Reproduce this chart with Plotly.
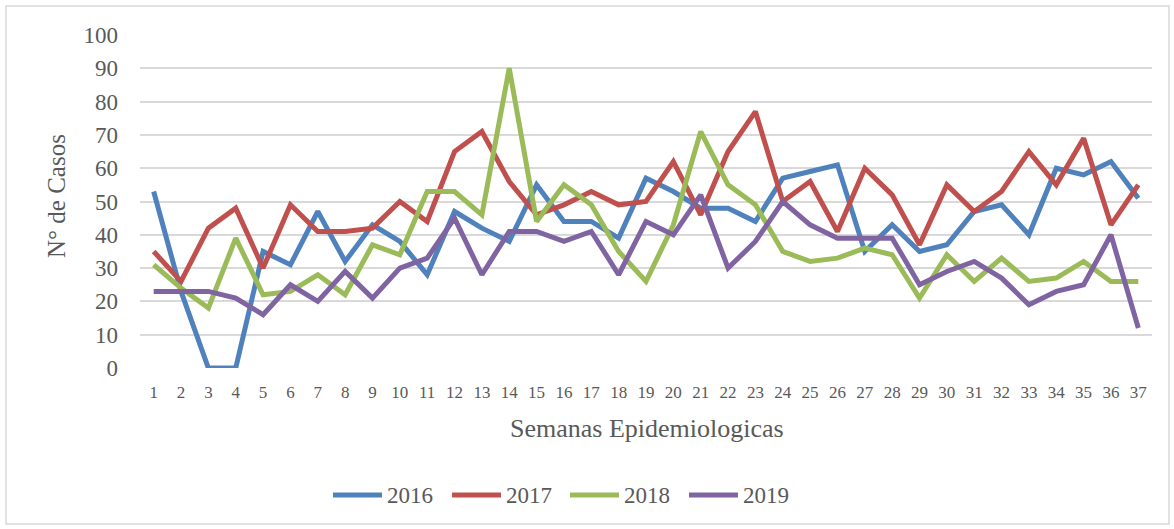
import plotly.graph_objects as go

weeks = [str(i) for i in range(1, 38)]
y2016 = [53, 23, 0, 0, 35, 31, 47, 32, 43, 38, 28, 47, 42, 38, 55, 44, 44, 39, 57, 53, 48, 48, 44, 57, 59, 61, 35, 43, 35, 37, 47, 49, 40, 60, 58, 62, 51]
y2017 = [35, 26, 42, 48, 30, 49, 41, 41, 42, 50, 44, 65, 71, 56, 46, 49, 53, 49, 50, 62, 46, 65, 77, 50, 56, 41, 60, 52, 37, 55, 47, 53, 65, 55, 69, 43, 55]
y2018 = [31, 24, 18, 39, 22, 23, 28, 22, 37, 34, 53, 53, 46, 90, 44, 55, 49, 35, 26, 43, 71, 55, 49, 35, 32, 33, 36, 34, 21, 34, 26, 33, 26, 27, 32, 26, 26]
y2019 = [23, 23, 23, 21, 16, 25, 20, 29, 21, 30, 33, 45, 28, 41, 41, 38, 41, 28, 44, 40, 52, 30, 38, 50, 43, 39, 39, 39, 25, 29, 32, 27, 19, 23, 25, 40, 12]
series_names = ["2016", "2017", "2018", "2019"]
colors = ["#4F81BD", "#C0504D", "#9BBB59", "#8064A2"]
y_ticks = list(range(0, 101, 10))

FONT = "Liberation Serif"
TXT = "#595959"
W, H = 1174, 529
L, R, T, B = 140, 22, 35, 161
plot_h = H - T - B
plot_w = W - L - R


def px(xpix):
    return (xpix - L) / plot_w


def py(ypix):
    return ((H - B) - ypix) / plot_h


fig = go.Figure()
for name, vals, c in zip(series_names, [y2016, y2017, y2018, y2019], colors):
    fig.add_trace(go.Scatter(x=weeks, y=vals, name=name, mode="lines",
                             line=dict(color=c, width=5), cliponaxis=False,
                             showlegend=False))

fig.update_layout(
    width=W, height=H,
    margin=dict(l=L, r=R, t=T, b=B, autoexpand=False),
    plot_bgcolor="white", paper_bgcolor="white",
    font=dict(family=FONT, color=TXT),
    xaxis=dict(type="category", categoryorder="array", categoryarray=weeks,
               showgrid=False, zeroline=False, showline=False, ticks="",
               tickfont=dict(size=17, color=TXT), ticklabelstandoff=12,
               range=[-0.5, 36.5]),
    yaxis=dict(range=[0, 100], tickvals=y_ticks, showgrid=True, gridcolor="#D9D9D9",
               gridwidth=1.5, zeroline=False, showline=False, ticks="",
               tickfont=dict(size=23, color=TXT), ticklabelstandoff=21),
    showlegend=False,
)

# axis titles
fig.add_annotation(text="Semanas Epidemiologicas", xref="paper", yref="paper",
                   x=px(647), y=py(428), showarrow=False,
                   font=dict(size=26, color=TXT), xanchor="center", yanchor="middle")
fig.add_annotation(text="N° de Casos", xref="paper", yref="paper",
                   x=px(56), y=py(196), showarrow=False, textangle=-90,
                   font=dict(size=25, color=TXT), xanchor="center", yanchor="middle")

# legend (drawn manually to match the swatch length)
leg_x = [333, 452, 570, 689]
leg_y = 495
for name, c, x0 in zip(series_names, colors, leg_x):
    fig.add_shape(type="line", xref="paper", yref="paper",
                  x0=px(x0), x1=px(x0 + 49), y0=py(leg_y), y1=py(leg_y),
                  line=dict(color=c, width=5))
    fig.add_annotation(text=name, xref="paper", yref="paper",
                       x=px(x0 + 52), y=py(leg_y), showarrow=False,
                       font=dict(size=23, color=TXT), xanchor="left", yanchor="middle")

# outer chart border
fig.add_shape(type="rect", xref="paper", yref="paper",
              x0=px(6), x1=px(1169), y0=py(524), y1=py(6),
              line=dict(color="#D9D9D9", width=1.5), layer="below")

fig.write_html("out.html", config={"displayModeBar": False},
               post_script="document.body.style.margin='0';")
